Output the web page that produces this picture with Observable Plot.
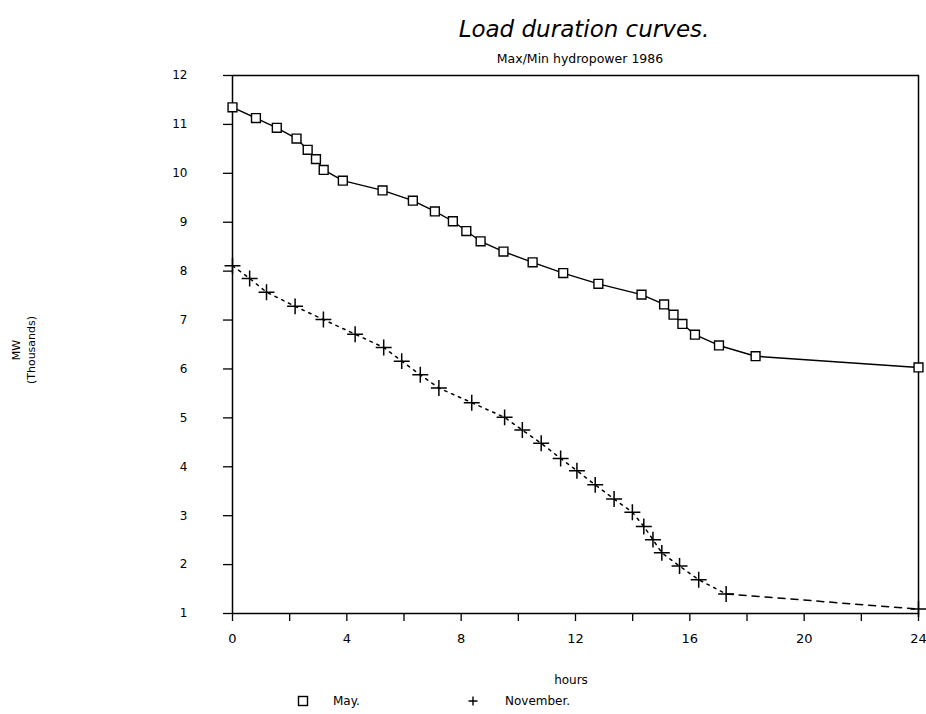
<!DOCTYPE html>
<html><head><meta charset="utf-8">
<script src="https://cdn.jsdelivr.net/npm/d3@7"></script>
<script src="https://cdn.jsdelivr.net/npm/@observablehq/plot@0.6"></script>
<style>
body{margin:0;background:#fff;font-family:"DejaVu Sans",sans-serif;color:#000;}
#wrap{position:relative;width:926px;height:714px;overflow:hidden;}
#wrap svg{position:absolute;left:0;top:0;}
.t{position:absolute;white-space:nowrap;}
#title{left:584px;top:16px;transform:translateX(-50%);font-size:23px;font-style:italic;font-weight:300;}
#subtitle{left:580px;top:51px;transform:translateX(-50%);font-size:12.5px;}
#ylab{left:24px;top:350px;transform:translate(-50%,-50%) rotate(-90deg);font-size:11px;text-align:center;line-height:15px;}
#xlab{left:571px;top:673px;transform:translateX(-50%);font-size:12px;}
.leg{top:694px;font-size:12px;display:flex;align-items:center;}
</style></head><body>
<div id="wrap">
  <div class="t" id="title">Load duration curves.</div>
  <div class="t" id="subtitle">Max/Min hydropower 1986</div>
  <div class="t" id="ylab">MW<br>(Thousands)</div>
  <div class="t" id="xlab">hours</div>
  <div class="t leg" style="left:297px"><svg width="12" height="12" style="position:static"><rect x="1.5" y="1.5" width="9" height="9" fill="#fff" stroke="#000" stroke-width="1.4"/></svg><span style="margin-left:24px">May.</span></div>
  <div class="t leg" style="left:467px"><svg width="12" height="12" style="position:static"><path d="M6,1.5V10.5M1.5,6H10.5" stroke="#000" stroke-width="1.4"/></svg><span style="margin-left:26px">November.</span></div>
</div>
<script>
// Load duration curves, thousands of MW vs hours
const mayHours = [0, 0.82, 1.55, 2.24, 2.63, 2.92, 3.19, 3.86, 5.25, 6.31, 7.08, 7.71, 8.18, 8.68, 9.48, 10.5, 11.57, 12.8, 14.31, 15.1, 15.43, 15.74, 16.18, 17.02, 18.3, 24];
const mayMW = [11.35, 11.13, 10.93, 10.71, 10.48, 10.29, 10.07, 9.85, 9.65, 9.44, 9.22, 9.02, 8.82, 8.61, 8.40, 8.18, 7.96, 7.74, 7.52, 7.32, 7.11, 6.92, 6.70, 6.48, 6.26, 6.03];
const novHours = [0, 0.6, 1.19, 2.19, 3.18, 4.29, 5.29, 5.92, 6.57, 7.22, 8.37, 9.52, 10.14, 10.8, 11.48, 12.05, 12.69, 13.35, 13.99, 14.39, 14.71, 15.02, 15.64, 16.31, 17.27, 24];
const novMW = [8.11, 7.85, 7.57, 7.28, 7.01, 6.71, 6.44, 6.16, 5.88, 5.61, 5.31, 5.01, 4.75, 4.48, 4.17, 3.92, 3.63, 3.34, 3.07, 2.78, 2.51, 2.24, 1.97, 1.69, 1.40, 1.09];
const xTicks = [0, 2, 4, 6, 8, 10, 12, 14, 16, 18, 20, 22, 24];
const xTickLabels = [0, 4, 8, 12, 16, 20, 24];
const yTicks = [1, 2, 3, 4, 5, 6, 7, 8, 9, 10, 11, 12];

const may = mayHours.map((h, i) => ({h, v: mayMW[i]}));
const nov = novHours.map((h, i) => ({h, v: novMW[i]}));
const novDotted = nov.slice(0, nov.length - 1);
const novDashed = nov.slice(nov.length - 2);

const chart = Plot.plot({
  width: 926, height: 714,
  marginLeft: 232, marginRight: 8, marginTop: 75, marginBottom: 101,
  style: {fontFamily: "DejaVu Sans, sans-serif", color: "#000", background: "transparent", overflow: "visible"},
  x: {domain: [0, 24]},
  y: {domain: [1, 12]},
  marks: [
    Plot.frame({stroke: "#000", strokeWidth: 1.5}),
    Plot.axisY({ticks: yTicks, tickSize: 9, tickPadding: 36, fontSize: 12, label: null, strokeWidth: 1.3}),
    Plot.axisX({ticks: xTicks, tickFormat: d => xTickLabels.includes(d) ? String(d) : "", tickSize: 8, tickPadding: 12, fontSize: 13, label: null, strokeWidth: 1.3}),
    Plot.line(may, {x: "h", y: "v", stroke: "#000", strokeWidth: 1.4}),
    Plot.line(novDotted, {x: "h", y: "v", stroke: "#000", strokeWidth: 1.5, strokeDasharray: "2.5,5"}),
    Plot.line(novDashed, {x: "h", y: "v", stroke: "#000", strokeWidth: 1.5, strokeDasharray: "7,6"}),
    Plot.dot(may, {x: "h", y: "v", symbol: "square", r: 5, fill: "#fff", stroke: "#000", strokeWidth: 1.4}),
    Plot.dot(nov, {x: "h", y: "v", symbol: "plus", r: 5.2, stroke: "#000", strokeWidth: 1.5})
  ]
});
document.getElementById("wrap").prepend(chart);
</script>
</body></html>
